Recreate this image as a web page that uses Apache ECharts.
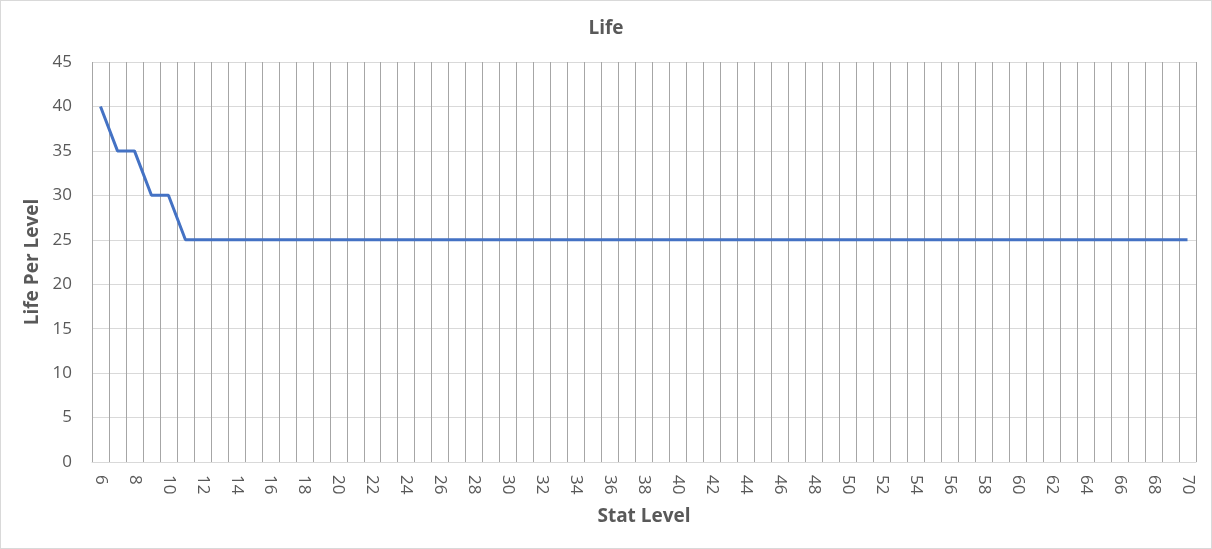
<!DOCTYPE html>
<html><head><meta charset="utf-8">
<script src="https://cdn.jsdelivr.net/npm/echarts@6/dist/echarts.min.js"></script>
<style>html,body{margin:0;padding:0;background:#fff}#c{width:1212px;height:549px;box-sizing:border-box;border:1px solid #d9d9d9}</style>
</head><body><div id="c"></div>
<script>
const categories = [];
for (let i = 6; i <= 70; i++) categories.push(String(i));
const lifePerLevel = [40,35,35,30,30,25,25,25,25,25,25,25,25,25,25,25,25,25,25,25,25,25,25,25,25,25,25,25,25,25,25,25,25,25,25,25,25,25,25,25,25,25,25,25,25,25,25,25,25,25,25,25,25,25,25,25,25,25,25,25,25,25,25,25,25];
const yTicks = { min: 0, max: 45, step: 5 };
const chart = echarts.init(document.getElementById('c'));
const txt = '#595959';
const font = 'Open Sans, Liberation Sans, sans-serif';
chart.setOption({
  animation: false,
  title: { text: 'Life', left: 'center', top: 13, textStyle: { fontFamily: font, fontSize: 19, fontWeight: 'bold', color: txt } },
  grid: { left: 91, right: 15, top: 61, bottom: 86, containLabel: false },
  xAxis: {
    type: 'category', data: categories, boundaryGap: true,
    name: 'Stat Level', nameLocation: 'middle', nameGap: 45,
    nameTextStyle: { fontFamily: font, fontSize: 19, fontWeight: 'bold', color: txt },
    axisLine: { lineStyle: { color: '#d9d9d9' } },
    axisTick: { show: false },
    axisLabel: { interval: 1, rotate: -90, fontFamily: font, fontSize: 17, color: txt, margin: 13 },
    splitLine: { show: true, interval: 0, lineStyle: { color: '#a6a6a6', width: 1 } }
  },
  yAxis: {
    type: 'value', min: yTicks.min, max: yTicks.max, interval: yTicks.step,
    name: 'Life Per Level', nameLocation: 'middle', nameGap: 48,
    nameTextStyle: { fontFamily: font, fontSize: 19, fontWeight: 'bold', color: txt },
    axisLine: { show: false }, axisTick: { show: false },
    axisLabel: { fontFamily: font, fontSize: 17, color: txt, margin: 20 },
    splitLine: { lineStyle: { color: '#d9d9d9' } }
  },
  series: [{ type: 'line', data: lifePerLevel, symbol: 'none', lineStyle: { color: '#4472C4', width: 3 } }]
});
</script></body></html>
